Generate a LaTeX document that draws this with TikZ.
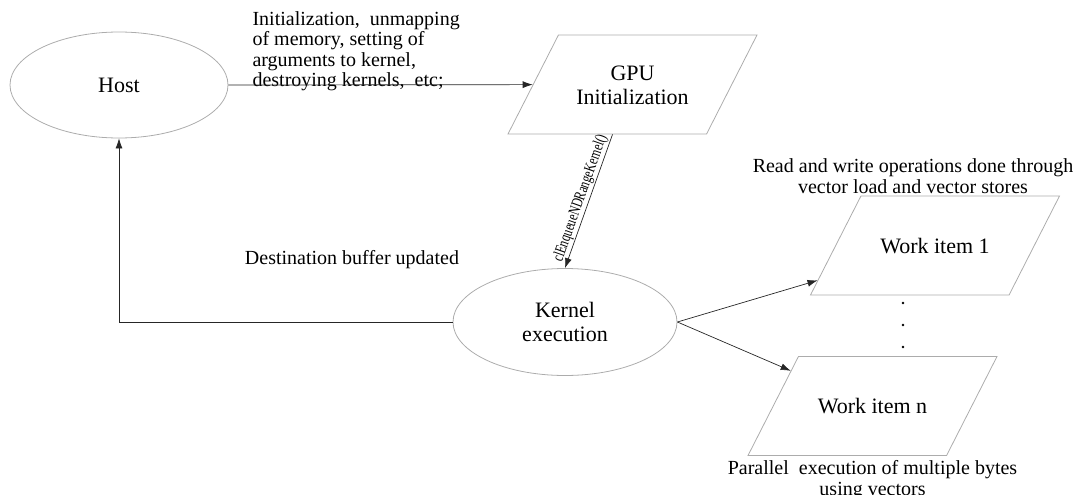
\documentclass[tikz,border=0pt]{standalone}
\usepackage{fontspec}
\setmainfont{Liberation Serif}
\newfontfamily\narrowfont[FakeStretch=0.72]{Liberation Serif}
\usetikzlibrary{arrows.meta,positioning,shapes.geometric}

\begin{document}
\begin{tikzpicture}[x=1pt,y=-1pt,>={Latex[length=10pt,width=7pt]}]
        \tikzset{ellbox/.style={draw=gray!65, line width=0.8pt, ellipse, align=center, font=\fontsize{22}{24}\selectfont},
        parbox/.style={draw=gray!65, line width=0.8pt, trapezium, trapezium left angle=63, trapezium right angle=117,
            trapezium stretches body=true, inner ysep=0pt, minimum width=249pt, align=center, font=\fontsize{22}{24}\selectfont},
        oneline/.style={text height=57pt, text depth=42pt},
        lbl/.style={align=center, font=\fontsize{20}{20.5}\selectfont},
        conn/.style={draw=black!85, line width=0.7pt, ->},
        }
        \useasboundingbox (0,0) rectangle (1079,495);

        \node [ellbox, minimum width=218pt, minimum height=106pt] (host) at (119,85) {Host};
        \node [parbox, text height=69pt, text depth=30pt] (gpu) at (632.5,84.5) {GPU\\Initialization};
        \node [ellbox, minimum width=224pt, minimum height=107pt] (kernel) at (565,322) {Kernel\\execution};
        \node [parbox, oneline] (wi1) at (935,245.5) {Work item 1};
        \node [parbox, oneline] (win) at (872.5,406) {Work item n};

        \node [lbl, align=left, anchor=west] (init_lbl) at (249,51) {Initialization,~ unmapping\\of memory, setting of\\arguments to kernel,\\destroying kernels,~ etc;};
        \node [lbl] (dest_lbl) at (352,260) {Destination buffer updated};
        \node [lbl] (rw_lbl) at (913,176) {Read and write operations done through\\vector load and vector stores};
        \node [lbl, below=1pt of win] (par_lbl) {Parallel~ execution of multiple bytes\\using vectors};

        \foreach \y in {303,325,347} \fill (903,\y) circle (1.3pt);

%%% paths
        \path[conn] (host.east) -- (gpu);
        \path[conn] ([xshift=-20pt]gpu.south) -- node [midway, above, sloped, inner sep=1pt,
            font=\narrowfont\fontsize{16}{16}\selectfont] (call_lbl) {clEnqueueNDRangeKernel()} (kernel.north);
        \path[conn] (kernel.west) -| (host.south);
        \path[conn] (kernel.east) -- (wi1);
        \path[conn] (kernel.east) -- (win);
\end{tikzpicture}
\end{document}
